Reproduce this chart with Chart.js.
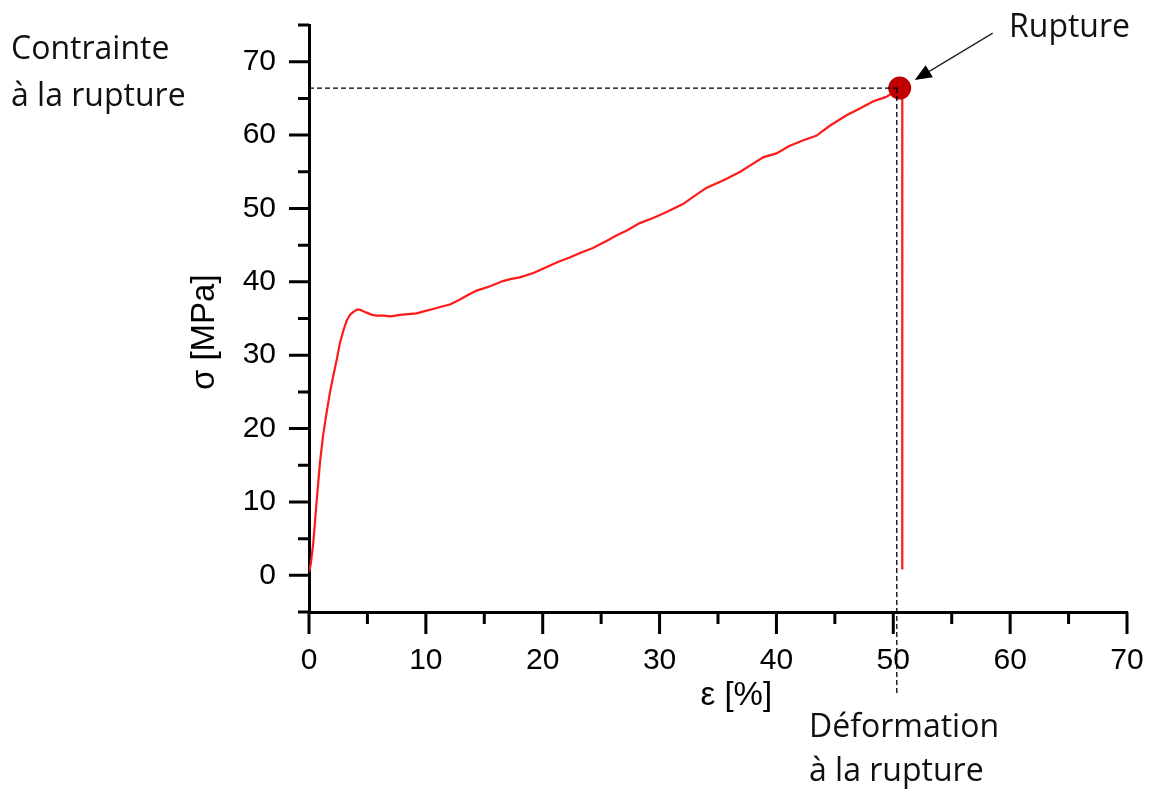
<!DOCTYPE html>
<html>
<head>
<meta charset="utf-8">
<title>Courbe de traction</title>
<script src="https://cdn.jsdelivr.net/npm/chart.js@4.4.1/dist/chart.umd.min.js"></script>
<style>
    html, body { margin: 0; padding: 0; background: #ffffff; }
    #wrap { width: 1153px; height: 792px; }
</style>
</head>
<body>
<div id="wrap">
    <canvas id="tensileChart" width="1153" height="792"></canvas>
</div>
<script>

// Strain (%) and stress (MPa).
// The last two points are the vertical drop at break.
var strainPct = [
    0.0, 0.15, 0.37, 0.65, 0.94, 1.2, 1.51, 1.8, 2.08, 2.4,
    2.65, 2.95, 3.22, 3.5, 3.79, 4.1, 4.36, 4.65, 4.93, 5.4,
    5.79, 6.4, 6.93, 7.4, 7.78, 8.5, 9.21, 9.9, 10.63, 11.3,
    12.06, 12.8, 13.6, 14.35, 15.5, 16.6, 17.3, 18.05, 19.2, 20.3,
    21.3, 22.3, 23.3, 24.3, 25.5, 26.3, 27.2, 28.3, 29.45, 30.6,
    32.0, 33.0, 34.0, 35.7, 36.9, 37.9, 38.9, 40.0, 41.1, 42.3,
    43.4, 44.6, 46.0, 47.1, 48.3, 49.4, 50.1, 50.5, 50.77, 50.77
];

var stressMPa = [
    0.5, 1.5, 4.5, 10.0, 15.4, 19.0, 22.2, 25.0, 27.2, 29.6,
    31.7, 33.4, 34.7, 35.5, 35.9, 36.2, 36.2, 36.0, 35.8, 35.5,
    35.4, 35.4, 35.3, 35.4, 35.5, 35.6, 35.7, 36.0, 36.3, 36.6,
    36.9, 37.5, 38.2, 38.8, 39.4, 40.1, 40.4, 40.6, 41.2, 42.0,
    42.7, 43.3, 44.0, 44.6, 45.6, 46.3, 47.0, 48.0, 48.7, 49.5,
    50.6, 51.7, 52.8, 54.0, 55.0, 56.0, 57.0, 57.5, 58.5, 59.3,
    59.9, 61.3, 62.7, 63.6, 64.6, 65.2, 65.9, 66.3, 66.3, 0.8
];

// Break point (marker) and where the dashed guides cross the axes
var ruptureStrain = 50.55;
var ruptureStress = 66.4;
var guideStrain = 50.3;
var guideStrainBottom = -16.2;

// Axis ranges and tick positions
var xMin = 0, xMax = 70;
var yMin = -5, yMax = 75;
var xTicks = [0, 5, 10, 15, 20, 25, 30, 35, 40, 45, 50, 55, 60, 65, 70];
var yTicks = [-5, 0, 5, 10, 15, 20, 25, 30, 35, 40, 45, 50, 55, 60, 65, 70, 75];

// the spaces nudge the titles off the axis centre, as in the original figure
var xTitle = '    ε [%]';
var yTitle = 'σ [MPa]   ';
var breakLabel = 'Rupture';
var stressNote = ['Contrainte', 'à la rupture'];
var strainNote = ['Déformation', 'à la rupture'];

var tickFont = { family: '"Liberation Sans", Arial, sans-serif', size: 30 };
var titleFont = { family: '"Liberation Sans", Arial, sans-serif', size: 33 };
var noteFont = '32px "Open Sans", sans-serif';

var toPoints = function (xs, ys) {
    var pts = [];
    for (var i = 0; i < xs.length; i++) {
        pts.push({ x: xs[i], y: ys[i] });
    }
    return pts;
};

/**
 * Tick marks: long ones on the labelled values, short ones in between.
 * Drawn here because Chart.js only has one tick length per axis.
 */
var tickMarksPlugin = {
    id: 'tickMarks',
    afterDraw: function (chart) {
        var ctx = chart.ctx;
        var xs = chart.scales.x;
        var ys = chart.scales.y;
        var area = chart.chartArea;

        ctx.save();
        ctx.strokeStyle = '#000000';
        ctx.lineWidth = 3;
        ctx.lineCap = 'butt';
        ctx.beginPath();
        xTicks.forEach(function (v) {
            var px = xs.getPixelForValue(v);
            var len = v % 10 === 0 ? 22 : 12;
            ctx.moveTo(px, area.bottom);
            ctx.lineTo(px, area.bottom + len);
        });
        yTicks.forEach(function (v) {
            var py = ys.getPixelForValue(v);
            var len = v % 10 === 0 ? 20 : 11;
            ctx.moveTo(area.left, py);
            ctx.lineTo(area.left - len, py);
        });
        ctx.stroke();
        ctx.restore();
    }
};

/**
 * Text notes and the arrow pointing at the break marker.
 */
var notesPlugin = {
    id: 'notes',
    afterDraw: function (chart) {
        var ctx = chart.ctx;
        var px = chart.scales.x.getPixelForValue(ruptureStrain);
        var py = chart.scales.y.getPixelForValue(ruptureStress);

        ctx.save();
        ctx.fillStyle = '#111111';
        ctx.font = noteFont;
        ctx.textAlign = 'left';
        ctx.textBaseline = 'middle';

        ctx.fillText(breakLabel, 1009, 28);
        ctx.fillText(stressNote[0], 11, 50);
        ctx.fillText(stressNote[1], 11, 97);
        ctx.fillText(strainNote[0], 809, 728);
        ctx.fillText(strainNote[1], 809, 772);

        // arrow from the label down to the marker
        var tipX = px + 15, tipY = py - 8;
        var tailX = tipX + 78, tailY = tipY - 47;
        var ang = Math.atan2(tipY - tailY, tipX - tailX);
        var headLen = 17, headHalf = 7;

        ctx.strokeStyle = '#222222';
        ctx.lineWidth = 1.3;
        ctx.beginPath();
        ctx.moveTo(tailX, tailY);
        ctx.lineTo(tipX - Math.cos(ang) * headLen, tipY - Math.sin(ang) * headLen);
        ctx.stroke();

        ctx.fillStyle = '#000000';
        ctx.beginPath();
        ctx.moveTo(tipX, tipY);
        ctx.lineTo(tipX - Math.cos(ang) * headLen - Math.sin(ang) * headHalf,
                   tipY - Math.sin(ang) * headLen + Math.cos(ang) * headHalf);
        ctx.lineTo(tipX - Math.cos(ang) * headLen + Math.sin(ang) * headHalf,
                   tipY - Math.sin(ang) * headLen - Math.cos(ang) * headHalf);
        ctx.closePath();
        ctx.fill();
        ctx.restore();
    }
};

var config = {
    type: 'line',
    data: {
        datasets: [
            {
                label: 'guide-h',
                data: [{ x: xMin, y: ruptureStress }, { x: ruptureStrain, y: ruptureStress }],
                borderColor: '#000000',
                borderWidth: 1.3,
                borderDash: [5, 3],
                pointRadius: 0,
                order: 0
            },
            {
                label: 'guide-v',
                data: [{ x: guideStrain, y: ruptureStress }, { x: guideStrain, y: guideStrainBottom }],
                borderColor: '#000000',
                borderWidth: 1.3,
                borderDash: [5, 3],
                pointRadius: 0,
                clip: false,
                order: 0
            },
            {
                label: 'rupture',
                type: 'scatter',
                data: [{ x: ruptureStrain, y: ruptureStress }],
                backgroundColor: '#c00000',
                borderWidth: 0,
                pointRadius: 11.5,
                order: 1
            },
            {
                label: 'sigma',
                data: toPoints(strainPct, stressMPa),
                borderColor: '#ff1a1a',
                borderWidth: 2.2,
                pointRadius: 0,
                tension: 0,
                order: 2
            }
        ]
    },
    options: {
        responsive: false,
        animation: false,
        layout: {
            padding: { left: 0, right: 26, top: 25, bottom: 0 }
        },
        plugins: {
            legend: { display: false },
            tooltip: { enabled: false },
            title: { display: false }
        },
        scales: {
            x: {
                type: 'linear',
                min: xMin,
                max: xMax,
                afterFit: function (scale) {
                    scale.height = 180;
                    scale.paddingLeft = 0;
                    scale.paddingRight = 0;
                },
                border: { display: true, color: '#000000', width: 3 },
                grid: { display: true, drawOnChartArea: false, drawTicks: false },
                ticks: {
                    stepSize: 5,
                    padding: 31,
                    maxRotation: 0,
                    autoSkip: false,
                    color: '#000000',
                    font: tickFont,
                    callback: function (v) { return v % 10 === 0 ? String(v) : ''; }
                },
                title: {
                    display: true,
                    text: xTitle,
                    color: '#000000',
                    font: titleFont,
                    padding: { top: 0, bottom: 76 }
                }
            },
            y: {
                type: 'linear',
                min: yMin,
                max: yMax,
                afterFit: function (scale) {
                    scale.width = 309;
                    scale.paddingTop = 0;
                    scale.paddingBottom = 0;
                },
                border: { display: true, color: '#000000', width: 3 },
                grid: { display: true, drawOnChartArea: false, drawTicks: false },
                ticks: {
                    stepSize: 5,
                    padding: 33,
                    autoSkip: false,
                    color: '#000000',
                    font: tickFont,
                    callback: function (v) { return v % 10 === 0 ? String(v) : ''; }
                },
                title: {
                    display: true,
                    text: yTitle,
                    color: '#000000',
                    font: titleFont,
                    padding: { top: 185, bottom: 0 }
                }
            }
        }
    },
    plugins: [tickMarksPlugin, notesPlugin]
};

var ctx = document.getElementById('tensileChart').getContext('2d');
var tensileChart = new Chart(ctx, config);

</script>
</body>
</html>
